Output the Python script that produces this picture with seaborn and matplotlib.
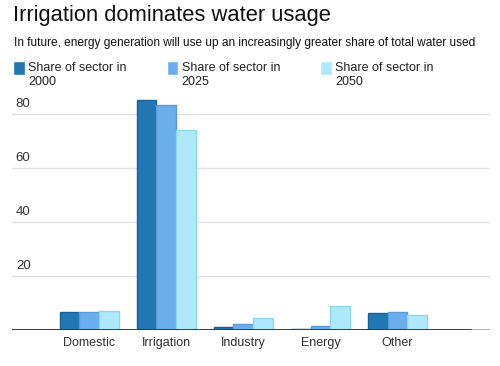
import pandas as pd
import seaborn as sns
import matplotlib.pyplot as plt

sectors = ['Domestic', 'Irrigation', 'Industry', 'Energy', 'Other']
share_2000 = [6.8, 85.2, 1.2, 0.5, 6.4]
share_2025 = [6.8, 83.4, 2.3, 1.5, 6.8]
share_2050 = [7.1, 74.0, 4.4, 8.9, 5.6]
years = ['2000', '2025', '2050']
yticks = [20, 40, 60, 80]

colors = ['#2077b4', '#6aaeee', '#aee8fb']
edges = ['#1a6098', '#5b9bd8', '#8fd6f0']

rows = []
for year, vals in zip(years, [share_2000, share_2025, share_2050]):
    for s, v in zip(sectors, vals):
        rows.append({'sector': s, 'year': 'Share of sector in\n' + year, 'share': v})
df = pd.DataFrame(rows)

sns.set_style('white')
plt.rcParams['font.family'] = ['Liberation Sans', 'DejaVu Sans']

fig = plt.figure(figsize=(5, 3.66), dpi=100)
ax = fig.add_axes([12 / 500, 36 / 366, 478 / 500, 235 / 366])

sns.barplot(data=df, x='sector', y='share', hue='year', palette=colors,
            width=0.765, saturation=1, ax=ax, legend=True)

for c, ec in zip(ax.containers, edges):
    for bar in c:
        bar.set_edgecolor(ec)
        bar.set_linewidth(1)

ax.set_xlim(-1.0, 5.2)
ax.set_ylim(0, 87)
for sp in ax.spines.values():
    sp.set_visible(False)
ax.set_yticks([])
ax.set_xlabel('')
ax.set_ylabel('')
ax.tick_params(axis='x', length=0, pad=5, labelsize=9, labelcolor='#333333')

for t in yticks:
    ax.axhline(t, color='#e2e2e2', lw=1, zorder=0)
    ax.text(0.008, t + 1.3, str(t), transform=ax.get_yaxis_transform(),
            ha='left', va='bottom', fontsize=9.5, color='#333333')
ax.axhline(0, color='#aaaaaa', lw=1.3, zorder=3)
ax.axhline(0, xmin=0, xmax=(4.95 + 1.0) / 6.2, color='#333333', lw=1.3, zorder=4)

handles, labels = ax.get_legend_handles_labels()
ax.get_legend().remove()
leg = fig.legend(handles, labels, loc='upper left', bbox_to_anchor=(13 / 500, 1 - 62 / 366),
                 ncol=3, frameon=False, fontsize=9, handlelength=0.95, handleheight=1.3,
                 handletextpad=0.25, columnspacing=3.2, borderpad=0, borderaxespad=0,
                 labelcolor='#222222')
# lift the squares so they line up with the first text line
for p in leg.get_patches():
    p.set_y(p.get_y() + 5)

fig.text(13 / 500, 1 - 5 / 366, 'Irrigation dominates water usage', ha='left', va='top',
         fontsize=15.8, color='#111111')
fig.text(14 / 500, 1 - 37 / 366,
         'In future, energy generation will use up an increasingly greater share of total water used',
         ha='left', va='top', fontsize=8.6, color='#111111')

fig.savefig('out.png', dpi=100)
